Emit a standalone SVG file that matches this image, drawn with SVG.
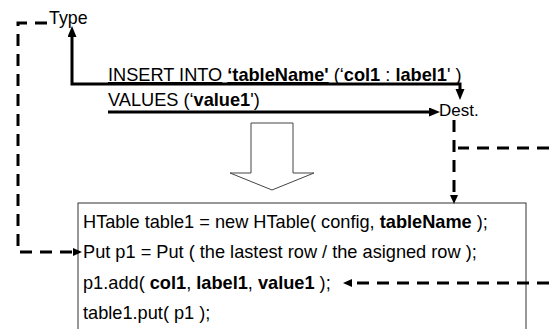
<svg xmlns="http://www.w3.org/2000/svg" width="549" height="329" viewBox="0 0 549 329">
<style>
text{font-family:"Liberation Sans",Arial,sans-serif;fill:#000}
.t18{font-size:18.2px}
.t17{font-size:17px}
.b{font-weight:bold}
.u{text-decoration:underline}
.solid{fill:none;stroke:#000;stroke-width:3}
.dash{fill:none;stroke:#000;stroke-width:3;stroke-dasharray:12 8}
.box{fill:#fff;stroke:#333;stroke-width:1}
.hollow{fill:#fff;stroke:#444;stroke-width:1}
</style>
<defs>
<marker id="ah" markerUnits="userSpaceOnUse" markerWidth="11" markerHeight="10" refX="0" refY="4.5" orient="auto-start-reverse"><path d="M0,0 L11,4.5 L0,9 z" fill="#000"/></marker>
<marker id="dh" markerUnits="userSpaceOnUse" markerWidth="9" markerHeight="9" refX="0" refY="4" orient="auto"><path d="M0,0 L9,4 L0,8 z" fill="#000"/></marker>
</defs>
<g id="type"><text x="49" y="24" style="font-size:17.8px">Type</text></g>
<g id="insert"><text class="t18" x="108" y="81"><tspan class="u">INSERT INTO</tspan> <tspan class="b u">‘tableName'</tspan> (‘<tspan class="b">col1</tspan> : <tspan class="b">label1</tspan>' )</text></g>
<g id="values"><text class="t18" x="108" y="106">VALUES (‘<tspan class="b">value1</tspan>')</text></g>
<g id="dest"><text class="t17" x="439" y="116">Dest.</text></g>
<g id="transform"><polygon class="hollow" points="251,123 293,123 293,173 314,173 272,190 230,173 251,173"/></g>
<g id="code">
<rect class="box" x="78" y="203" width="448" height="140"/>
<text class="t18" x="83" y="228">HTable table1 = new HTable( config, <tspan class="b">tableName</tspan> );</text>
<text class="t18" x="83" y="258">Put p1 = Put ( the lastest row / the asigned row );</text>
<text class="t18" x="83" y="289">p1.add( <tspan class="b">col1</tspan>, <tspan class="b">label1</tspan>, <tspan class="b">value1</tspan> );</text>
<text class="t18" x="83" y="319">table1.put( p1 );</text>
</g>
<g id="connectors">
<path class="solid" d="M72,37 L72,84 L460,84 L460,89" marker-start="url(#ah)" marker-end="url(#ah)"/>
<path class="solid" d="M108,112 L429,112" marker-end="url(#ah)"/>
<path class="dash" d="M454,120 L454,195" marker-end="url(#dh)"/>
<path class="dash" d="M549,148 L458,148"/>
<path class="dash" d="M549,283 L352,283" marker-end="url(#dh)"/>
<path class="dash" d="M47,23 L18,23 L18,252 L73,252" marker-end="url(#dh)"/>
</g>
</svg>
